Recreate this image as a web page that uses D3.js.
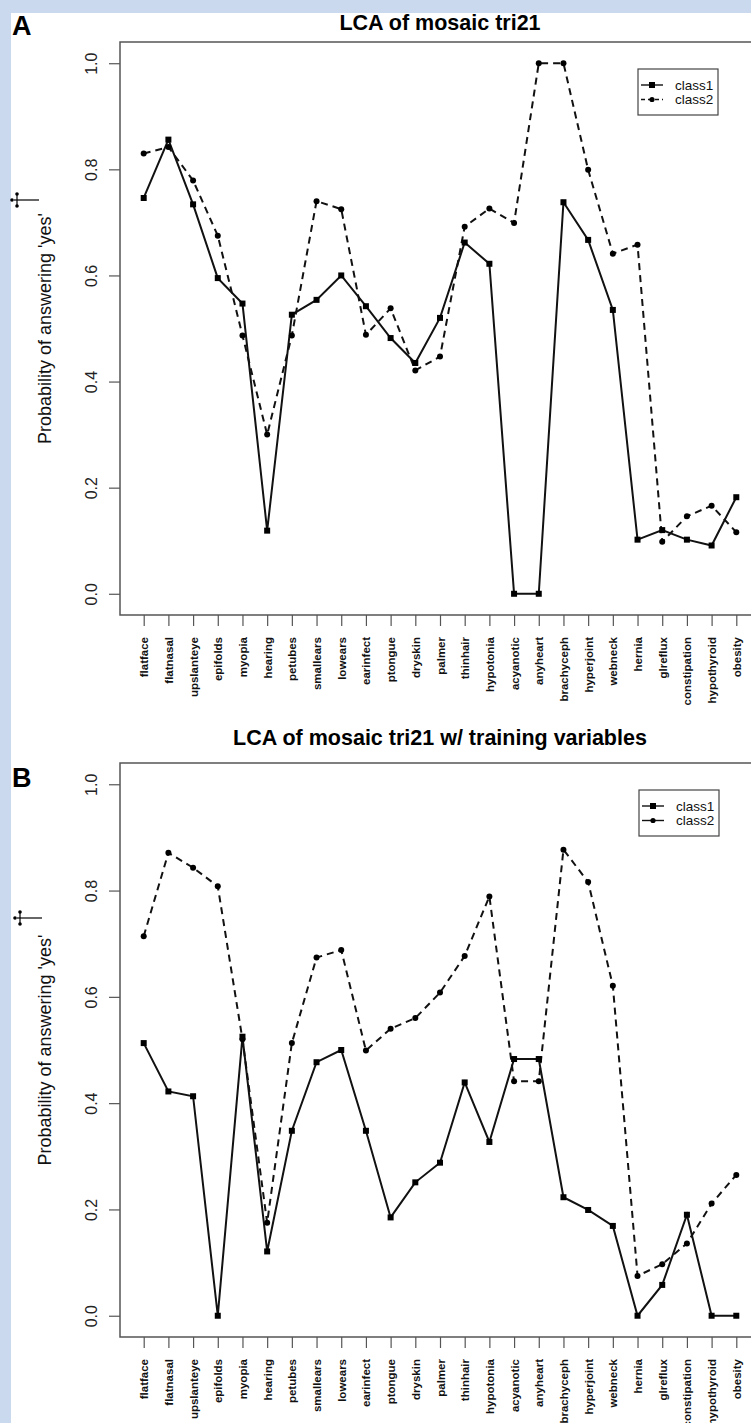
<!DOCTYPE html>
<html><head><meta charset="utf-8">
<script src="https://cdn.jsdelivr.net/npm/d3@7"></script>
<style>body{margin:0;background:#cbd9ef;} svg{display:block;}</style>
</head><body>
<svg id="c" width="751" height="1423"></svg>
<script>
const categories = ["flatface","flatnasal","upslanteye","epifolds","myopia","hearing","petubes","smallears","lowears","earinfect","ptongue","dryskin","palmer","thinhair","hypotonia","acyanotic","anyheart","brachyceph","hyperjoint","webneck","hernia","glreflux","constipation","hypothyroid","obesity"];
const yTicks = [0.0, 0.2, 0.4, 0.6, 0.8, 1.0];
const seriesNames = ["class1", "class2"];
const titleA = "LCA of mosaic tri21";
const titleB = "LCA of mosaic tri21 w/ training variables";
const yLabel = "Probability of answering 'yes'";

const aClass1 = [0.746,0.856,0.734,0.595,0.547,0.119,0.526,0.554,0.600,0.542,0.482,0.435,0.520,0.662,0.622,0.0,0.0,0.738,0.667,0.535,0.102,0.120,0.102,0.091,0.182];
const aClass2 = [0.830,0.842,0.779,0.675,0.487,0.300,0.487,0.740,0.725,0.488,0.538,0.421,0.447,0.692,0.726,0.699,1.0,1.0,0.799,0.641,0.658,0.098,0.146,0.166,0.116];
const bClass1 = [0.513,0.422,0.413,0.0,0.525,0.121,0.348,0.477,0.500,0.348,0.185,0.251,0.288,0.439,0.327,0.483,0.483,0.223,0.199,0.169,0.0,0.058,0.190,0.0,0.0];
const bClass2 = [0.714,0.871,0.843,0.808,0.520,0.175,0.513,0.674,0.688,0.499,0.540,0.560,0.608,0.677,0.789,0.441,0.441,0.877,0.816,0.621,0.075,0.097,0.136,0.211,0.265];

const svg = d3.select("#c");
svg.append("rect").attr("x",11).attr("y",13).attr("width",751).attr("height",1423).attr("fill","#fff");

const FONT = "Liberation Sans, Arial, Helvetica, sans-serif";
const x = d3.scaleLinear().domain([0.04, 25.96]).range([120, 760]);

function dagger(g, cx, cy){
  g.append("line").attr("x1",cx-3).attr("x2",cx+22).attr("y1",cy).attr("y2",cy).attr("stroke","#000").attr("stroke-width",1.2);
  g.append("line").attr("x1",cx).attr("x2",cx).attr("y1",cy-5).attr("y2",cy+5).attr("stroke","#000").attr("stroke-width",1.2);
  [[-5,0],[0,-6],[0,6]].forEach(([dx,dy])=>g.append("circle").attr("cx",cx+dx).attr("cy",cy+dy).attr("r",1.8).attr("fill","#000"));
}

function panel(opt){
  const g = svg.append("g");
  const y = d3.scaleLinear().domain([-0.04, 1.04]).range([opt.bottom, opt.top]);
  g.append("text").attr("x",440).attr("y",opt.titleY).attr("text-anchor","middle")
    .attr("font-family",FONT).attr("font-weight","bold").attr("font-size",21.5).text(opt.title);
  g.append("text").attr("x",12).attr("y",opt.letterY).attr("font-family",FONT).attr("font-weight","bold")
    .attr("font-size",27).text(opt.letter);
  g.append("rect").attr("x",120).attr("y",opt.top).attr("width",640).attr("height",opt.bottom-opt.top)
    .attr("fill","none").attr("stroke","#555").attr("stroke-width",1.5);
  // y axis
  const ya = g.append("g").attr("transform","translate(120,0)")
    .call(d3.axisLeft(y).tickValues(yTicks).tickSize(11).tickFormat(d3.format(".1f")));
  ya.select(".domain").remove();
  ya.selectAll("line").attr("stroke","#555").attr("stroke-width",1.2);
  ya.selectAll("text").attr("font-family",FONT).attr("font-size",16).attr("fill","#222")
    .attr("x",0).attr("y",0).attr("dy",0).attr("text-anchor","middle")
    .attr("transform","translate(-23,0) rotate(-90)");
  // x axis
  const xa = g.append("g").attr("transform",`translate(0,${opt.bottom})`)
    .call(d3.axisBottom(x).tickValues(d3.range(1,26)).tickSize(11).tickFormat(d=>categories[d-1]));
  xa.select(".domain").remove();
  xa.selectAll("line").attr("stroke","#555").attr("stroke-width",1.2);
  xa.selectAll("text").attr("font-family",FONT).attr("font-size",11.5).attr("font-weight","bold").attr("fill","#111")
    .attr("text-anchor","end").attr("dy","0.35em").attr("y",0).attr("x",0)
    .attr("transform","translate(0,22) rotate(-90)");
  const cy = (opt.top+opt.bottom)/2;
  g.append("text").attr("transform",`translate(51,${cy}) rotate(-90)`).attr("text-anchor","middle")
    .attr("font-family",FONT).attr("font-size",18).attr("fill","#111").text(yLabel);
  dagger(g, opt.daggerX, opt.daggerY);
  const line = d3.line().x((d,i)=>x(i+1)).y(d=>y(d));
  g.append("path").datum(opt.s2).attr("d",line).attr("fill","none").attr("stroke","#111")
    .attr("stroke-width",2).attr("stroke-dasharray","7,5");
  g.append("path").datum(opt.s1).attr("d",line).attr("fill","none").attr("stroke","#111").attr("stroke-width",2);
  g.selectAll(".sq").data(opt.s1).join("rect").attr("class","sq").attr("x",(d,i)=>x(i+1)-3).attr("y",d=>y(d)-3)
    .attr("width",6).attr("height",6).attr("fill","#000");
  g.selectAll(".dt").data(opt.s2).join("circle").attr("class","dt").attr("cx",(d,i)=>x(i+1)).attr("cy",d=>y(d)).attr("r",3).attr("fill","#000");
  const L = opt.legend;
  g.append("rect").attr("x",L.x).attr("y",L.y).attr("width",80).attr("height",46)
    .attr("fill","#fff").attr("stroke","#444").attr("stroke-width",1.2);
  seriesNames.forEach((nm,i)=>{
    const ly = L.y + 16 + i*14.5;
    g.append("line").attr("x1",L.x+3).attr("x2",L.x+25).attr("y1",ly).attr("y2",ly).attr("stroke","#111").attr("stroke-width",1.4)
      .attr("stroke-dasharray", (i===1 && L.dash) ? "4,3" : null);
    if(i===0) g.append("rect").attr("x",L.x+14-3).attr("y",ly-3).attr("width",6).attr("height",6).attr("fill","#000");
    else g.append("circle").attr("cx",L.x+14).attr("cy",ly).attr("r",2.6).attr("fill","#000");
    g.append("text").attr("x",L.x+37).attr("y",ly+4.5).attr("font-family",FONT).attr("font-size",13.5).attr("fill","#111").text(nm);
  });
}

panel({title:titleA, letter:"A", titleY:30, letterY:35, top:42, bottom:615, s1:aClass1, s2:aClass2,
  legend:{x:638,y:69,dash:true}, daggerX:17, daggerY:200});
panel({title:titleB, letter:"B", titleY:745, letterY:787, top:763, bottom:1337, s1:bClass1, s2:bClass2,
  legend:{x:639,y:790,dash:false}, daggerX:20, daggerY:918});
</script>
</body></html>
